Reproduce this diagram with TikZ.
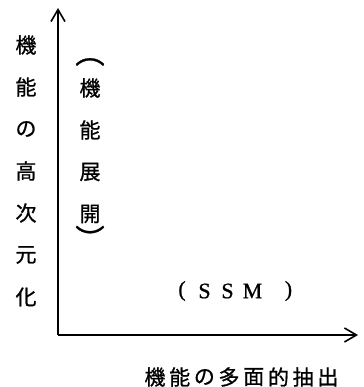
\documentclass[tikz,border=0pt]{standalone}
\usepackage{fontspec}
\setmainfont{Liberation Serif}
\newfontfamily\jp[FakeBold=0.9]{Noto Sans CJK JP}
\newfontfamily\lat[FakeBold=0.9]{Liberation Serif}
\usetikzlibrary{arrows.meta}

\begin{document}
\begin{tikzpicture}[x=1pt,y=-1pt,>={Straight Barb[length=12pt,width=14pt]},
                    line width=1.6pt]
  \tikzstyle{every node}=[inner sep=0pt]
  \tikzstyle{kanji}=[font=\jp\fontsize{21}{21}\selectfont]
  \tikzstyle{latin}=[font=\lat\fontsize{22}{22}\selectfont]
  \useasboundingbox (0,0) rectangle (363,387);

  \coordinate (O) at (58,335);
  \coordinate (Y) at (58,8);
  \coordinate (X) at (358,335);

  \draw[->] (O) -- (Y);
  \draw[->] (O) -- (X);

  % vertical axis label
  \foreach \c [count=\i] in {機,能,の,高,次,元,化}
    \node[kanji] (v\i) at (26,{45+42*(\i-1)}) {\c};

  % second column in brackets
  \node[kanji,scale=1.4] (pa) at (90,62)  {︵};
  \foreach \c [count=\i] in {機,能,展,開}
    \node[kanji] (w\i) at (90,{88+42*(\i-1)}) {\c};
  \node[kanji,scale=1.4] (pb) at (90,238) {︶};

  % (SSM)
  \foreach \x/\t [count=\i] in {182/(,204.5/S,227.5/S,252.5/M,288.5/)}
    \node[latin] (s\i) at (\x,291) {\t};

  % horizontal axis label
  \foreach \c [count=\i] in {機,能,の,多,面,的,抽,出}
    \node[kanji] (h\i) at ({155+24.7*(\i-1)},377) {\c};
\end{tikzpicture}
\end{document}
